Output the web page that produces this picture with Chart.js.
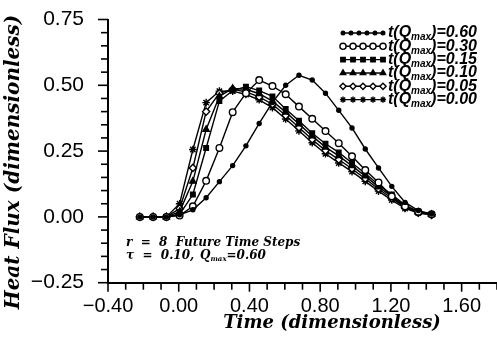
<!DOCTYPE html>
<html>
<head>
<meta charset="utf-8">
<script src="https://cdn.jsdelivr.net/npm/chart.js@4.4.1/dist/chart.umd.min.js"></script>
<style>
  html, body { margin: 0; padding: 0; background: #fff; }
  #wrap { width: 497px; height: 340px; }
</style>
</head>
<body>
<div id="wrap"><canvas id="flux" width="497" height="340"></canvas></div>
<script>
// time grid shared by every estimate
const times = [-0.22, -0.145, -0.07, 0.005, 0.08, 0.155, 0.23, 0.305, 0.38, 0.455, 0.53, 0.605,
               0.68, 0.755, 0.83, 0.905, 0.98, 1.055, 1.13, 1.205, 1.28, 1.355, 1.43];

// estimated heat flux, one list per time of peak flux
const q060 = [0, 0, 0, 0.008, 0.027, 0.073, 0.134, 0.195, 0.27, 0.355, 0.435, 0.50,
              0.538, 0.52, 0.47, 0.405, 0.338, 0.258, 0.186, 0.116, 0.055, 0.024, 0.011];
const q030 = [0, 0, 0, 0.005, 0.04, 0.137, 0.262, 0.398, 0.47, 0.52, 0.497, 0.466,
              0.419, 0.373, 0.326, 0.28, 0.23, 0.178, 0.131, 0.078, 0.04, 0.02, 0.01];
const q015 = [0, 0, 0, 0.01, 0.085, 0.262, 0.44, 0.48, 0.495, 0.48, 0.458, 0.41,
              0.365, 0.318, 0.278, 0.245, 0.205, 0.165, 0.122, 0.085, 0.045, 0.02, 0.01];
const q010 = [0, 0, 0, 0.02, 0.135, 0.332, 0.458, 0.488, 0.485, 0.468, 0.44, 0.398,
              0.353, 0.307, 0.265, 0.232, 0.194, 0.155, 0.114, 0.078, 0.04, 0.018, 0.009];
const q005 = [0, 0, 0, 0.032, 0.186, 0.40, 0.47, 0.485, 0.475, 0.456, 0.428, 0.385,
              0.34, 0.294, 0.252, 0.218, 0.183, 0.145, 0.106, 0.071, 0.036, 0.016, 0.008];
const q000 = [0, 0, 0, 0.05, 0.256, 0.434, 0.478, 0.478, 0.465, 0.445, 0.415, 0.372,
              0.327, 0.282, 0.24, 0.205, 0.172, 0.135, 0.098, 0.064, 0.032, 0.015, 0.008];

const peakTimes = ['0.60', '0.30', '0.15', '0.10', '0.05', '0.00'];
const xLabelled = [-0.4, 0, 0.4, 0.8, 1.2, 1.6];
const yLabelled = [-0.25, 0, 0.25, 0.5, 0.75];

const styles = [
  { style: 'circle',   r: 2,   fill: '#000' },
  { style: 'circle',   r: 3.3, fill: '#fff' },
  { style: 'rect',     r: 3.2, fill: '#000' },
  { style: 'triangle', r: 3.6, fill: '#000' },
  { style: 'rectRot',  r: 3.6, fill: '#fff' },
  { style: 'star',     r: 3.8, fill: '#000' }
];
const series = [q060, q030, q015, q010, q005, q000];

const onList = (v, list) => list.some(m => Math.abs(m - v) < 1e-6);
const fmt = v => v.toFixed(2).replace('-', '\u2212');

// keep the plot box fixed: no extra room for overhanging tick labels
function fixBox(s, size) {
  if (s.isHorizontal()) s.height = size; else s.width = size;
  s.paddingTop = s.paddingBottom = s.paddingLeft = s.paddingRight = 0;
}

const datasets = series.map((vals, i) => ({
  label: 't(Qmax)=' + peakTimes[i],
  data: vals.map((q, k) => ({ x: times[k], y: q })),
  borderColor: '#000',
  borderWidth: 1.4,
  pointStyle: styles[i].style,
  pointRadius: styles[i].r,
  pointBackgroundColor: styles[i].fill,
  pointBorderColor: '#000',
  pointBorderWidth: 1.4,
  tension: 0
}));

function marker(ctx, s, x, y) {
  ctx.fillStyle = s.fill;
  ctx.strokeStyle = '#000';
  ctx.lineWidth = 1.4;
  if (Chart.helpers && Chart.helpers.drawPoint) {
    Chart.helpers.drawPoint(ctx, { pointStyle: s.style, radius: s.r, rotation: 0, borderWidth: 1.4 }, x, y);
  } else {
    ctx.beginPath(); ctx.arc(x, y, s.r, 0, Math.PI * 2); ctx.fill(); ctx.stroke();
  }
}

// t(Q_max)=value with a lowered "max"
function qmaxText(ctx, x, y, prefix, suffix, size) {
  const big = 'bold italic ' + size + 'px "Liberation Sans"';
  const small = 'bold italic ' + Math.round(size * 0.62) + 'px "Liberation Sans"';
  ctx.font = big; ctx.fillText(prefix, x, y); x += ctx.measureText(prefix).width;
  ctx.font = small; ctx.fillText('max', x, y + size * 0.28); x += ctx.measureText('max').width;
  ctx.font = big; ctx.fillText(suffix, x, y);
}

const decorations = {
  id: 'decorations',
  afterDraw(chart) {
    const ctx = chart.ctx;
    const xs = chart.scales.x, ys = chart.scales.y;
    const a = chart.chartArea;
    ctx.save();
    ctx.strokeStyle = '#000';
    ctx.lineWidth = 1.6;

    // outward tick marks, longer where labelled
    ys.ticks.forEach(t => {
      const py = ys.getPixelForValue(t.value);
      const len = onList(t.value, yLabelled) ? 10 : 7;
      ctx.beginPath(); ctx.moveTo(a.left - len, py); ctx.lineTo(a.left, py); ctx.stroke();
    });
    xs.ticks.forEach(t => {
      const px = xs.getPixelForValue(t.value);
      const len = onList(t.value, xLabelled) ? 9 : 7;
      ctx.beginPath(); ctx.moveTo(px, a.bottom); ctx.lineTo(px, a.bottom + len); ctx.stroke();
    });

    ctx.fillStyle = '#000';
    ctx.textBaseline = 'middle';

    // axis titles
    ctx.textAlign = 'center';
    ctx.font = 'bold italic 18px "DejaVu Serif"';
    ctx.fillText('Time (dimensionless)', 332, 323);
    ctx.save();
    ctx.translate(14, 162);
    ctx.rotate(-Math.PI / 2);
    ctx.font = 'bold italic 20px "DejaVu Serif"';
    ctx.fillText('Heat Flux (dimensionless)', 0, 0);
    ctx.restore();

    // run parameters
    ctx.textAlign = 'left';
    ctx.font = 'bold italic 12px "DejaVu Serif"';
    ctx.fillText('r  =  8  Future Time Steps', 126, 243);
    ctx.fillText('\u03c4  =  0.10,', 126, 256);
    ctx.fillText('Q', 200, 256);
    const qw = ctx.measureText('Q').width;
    ctx.font = 'bold italic 7px "DejaVu Serif"';
    ctx.fillText('max', 200 + qw, 259);
    const mw = ctx.measureText('max').width;
    ctx.font = 'bold italic 12px "DejaVu Serif"';
    ctx.fillText('=0.60', 200 + qw + mw, 256);

    // legend
    const rowY = [33, 46.3, 59.6, 73, 86.3, 99.6];
    styles.forEach((s, i) => {
      const y = rowY[i];
      ctx.strokeStyle = '#000';
      ctx.lineWidth = 1.4;
      ctx.beginPath(); ctx.moveTo(343, y); ctx.lineTo(383, y); ctx.stroke();
      const n = i === 0 ? 6 : 5;
      for (let k = 0; k < n; k++) {
        marker(ctx, { style: s.style, r: i === 0 ? 1.8 : 3.1, fill: s.fill }, 343 + k * 40 / (n - 1), y);
      }
      ctx.fillStyle = '#000';
      qmaxText(ctx, 388, y, 't(Q', ')=' + peakTimes[i], 16);
    });
    ctx.restore();
  }
};

new Chart(document.getElementById('flux'), {
  type: 'line',
  data: { datasets },
  options: {
    responsive: false,
    animation: false,
    layout: { autoPadding: false, padding: { top: 19.5, left: 0, right: 0, bottom: 0 } },
    plugins: { legend: { display: false }, tooltip: { enabled: false } },
    scales: {
      x: {
        type: 'linear',
        min: -0.4,
        max: 1.8,
        afterFit: s => fixBox(s, 57.3),
        grid: { display: false, drawTicks: false },
        border: { display: true, color: '#000', width: 2 },
        ticks: {
          stepSize: 0.1,
          autoSkip: false,
          maxRotation: 0,
          padding: 12,
          color: '#000',
          font: { family: '"Liberation Sans"', size: 20 },
          callback: v => onList(v, xLabelled) ? fmt(v) : ''
        }
      },
      y: {
        min: -0.25,
        max: 0.75,
        afterFit: s => fixBox(s, 108),
        grid: { display: false, drawTicks: false },
        border: { display: true, color: '#000', width: 2 },
        ticks: {
          stepSize: 0.05,
          autoSkip: false,
          padding: 24,
          color: '#000',
          font: { family: '"Liberation Sans"', size: 21 },
          callback: v => onList(v, yLabelled) ? fmt(v) : ''
        }
      }
    }
  },
  plugins: [decorations]
});
</script>
</body>
</html>
